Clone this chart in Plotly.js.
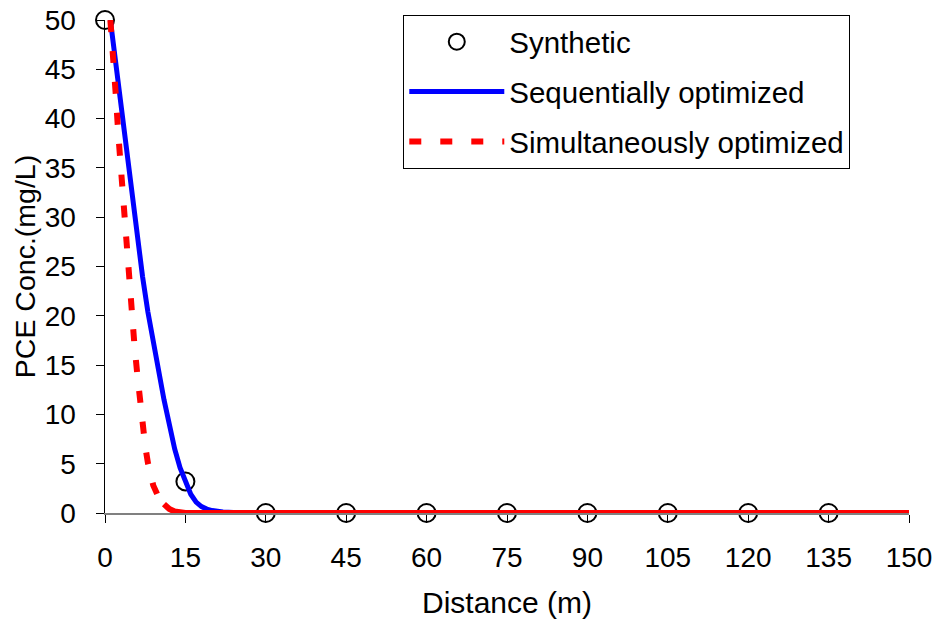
<!DOCTYPE html>
<html>
<head>
<meta charset="utf-8">
<script src="https://cdn.plot.ly/plotly-3.0.1.min.js"></script>
<style>html,body{margin:0;padding:0;background:#fff;}#chart{width:940px;height:624px;}</style>
</head>
<body>
<div id="chart"></div>
<script>
// Synthetic observations
var synDist = [0, 15, 30, 45, 60, 75, 90, 105, 120, 135];
var synConc = [50, 3.2, 0, 0, 0, 0, 0, 0, 0, 0];

// Sequentially optimized model curve
var seqDist = [1, 2, 3, 4, 5, 6, 7, 8, 9, 10, 11, 12, 13, 14, 15, 16, 17, 18, 19, 20, 22, 24, 26, 150];
var seqConc = [50, 45.5, 41, 36.5, 32, 27.8, 24, 20.4, 17.2, 14.2, 11.5, 9.0, 6.5, 4.6, 3.1, 1.9, 1.1, 0.65, 0.4, 0.25, 0.1, 0.03, 0, 0];

// Simultaneously optimized model curve
var simDist = [1, 1.5, 2, 2.5, 3, 3.5, 4, 4.5, 5, 5.5, 6, 6.5, 7, 7.5, 8, 9, 10, 11, 12, 13, 14, 15, 150];
var simConc = [50, 46.8, 42.5, 38.3, 34.5, 30.6, 27, 23.6, 20.3, 17, 14.2, 11.5, 9, 6.8, 5.1, 2.8, 1.6, 0.9, 0.4, 0.15, 0.05, 0, 0];

var xTicks = [0, 15, 30, 45, 60, 75, 90, 105, 120, 135, 150];
var yTicks = [0, 5, 10, 15, 20, 25, 30, 35, 40, 45, 50];

var splitIdx = 17; // dashed part up to this index, solid flat tail after
var FONT = 'Arial, "Liberation Sans", sans-serif';

var traces = [
  {
    x: synDist, y: synConc, type: 'scatter', mode: 'markers', name: 'Synthetic',
    legendgroup: 'a', cliponaxis: false,
    marker: {symbol: 'circle-open', size: 18, color: '#000', line: {width: 2, color: '#000'}}
  },
  {
    x: seqDist, y: seqConc, type: 'scatter', mode: 'lines', name: 'Sequentially optimized',
    legendgroup: 'b', cliponaxis: false,
    line: {color: '#0000FF', width: 5}
  },
  {
    x: simDist.slice(0, splitIdx + 1), y: simConc.slice(0, splitIdx + 1), type: 'scatter', mode: 'lines',
    name: 'Simultaneously optimized', legendgroup: 'c', cliponaxis: false,
    line: {color: '#FF0000', width: 6, dash: '12px,19px'}
  },
  {
    x: simDist.slice(splitIdx), y: simConc.slice(splitIdx), type: 'scatter', mode: 'lines',
    name: 'Simultaneously optimized', legendgroup: 'c', showlegend: false, cliponaxis: false,
    line: {color: '#FF0000', width: 6}
  }
];

var layout = {
  width: 940, height: 624,
  margin: {l: 104.5, r: 30.7, t: 20, b: 111, pad: 0},
  paper_bgcolor: '#fff', plot_bgcolor: '#fff',
  font: {family: FONT, size: 28, color: '#000'},
  showlegend: true,
  legend: {
    x: 0.371, y: 1.0101, xanchor: 'left', yanchor: 'top',
    bordercolor: '#000', borderwidth: 1, bgcolor: '#fff',
    font: {family: FONT, size: 29.5, color: '#000'},
    itemwidth: 95, tracegroupgap: 8.5, traceorder: 'grouped'
  },
  xaxis: {
    range: [0, 150], tickmode: 'array', tickvals: xTicks, ticktext: xTicks.map(String),
    showgrid: false, zeroline: false, showline: true, linecolor: '#808080', linewidth: 2,
    ticks: 'outside', ticklen: 8, tickwidth: 1, tickcolor: '#000',
    tickfont: {family: FONT, size: 28, color: '#000'},
    ticklabelstandoff: 10,
    title: {text: 'Distance (m)', font: {family: FONT, size: 30, color: '#000'}, standoff: 20},
    fixedrange: true
  },
  yaxis: {
    range: [0, 50], tickmode: 'array', tickvals: yTicks, ticktext: yTicks.map(String),
    showgrid: false, zeroline: false, showline: true, linecolor: '#000', linewidth: 1.5,
    ticks: 'outside', ticklen: 8, tickwidth: 1, tickcolor: '#000',
    tickfont: {family: FONT, size: 28, color: '#000'},
    ticklabelstandoff: 14,
    title: {text: 'PCE Conc.(mg/L)', font: {family: FONT, size: 28.5, color: '#000'}, standoff: 1},
    fixedrange: true
  }
};

Plotly.newPlot('chart', traces, layout, {staticPlot: true, displayModeBar: false});
</script>
</body>
</html>
